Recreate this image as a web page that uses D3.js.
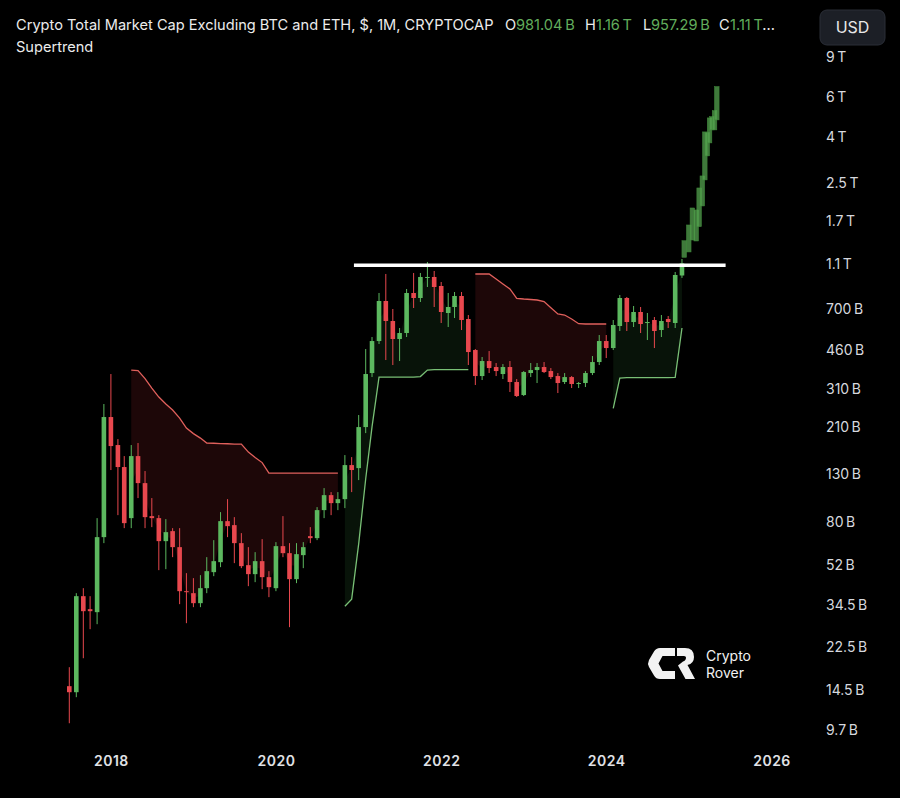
<!DOCTYPE html>
<html>
<head>
<meta charset="utf-8">
<script src="https://cdn.jsdelivr.net/npm/d3@7"></script>
<style>
  html, body { margin: 0; padding: 0; background: #000; }
  svg { display: block; }
</style>
</head>
<body>
<svg id="chart" width="900" height="798"></svg>
<script>
// monthly candles, all values in billions of USD
var months = [
  "2017-07","2017-08","2017-09","2017-10","2017-11","2017-12",
  "2018-01","2018-02","2018-03","2018-04","2018-05","2018-06","2018-07","2018-08","2018-09","2018-10","2018-11","2018-12",
  "2019-01","2019-02","2019-03","2019-04","2019-05","2019-06","2019-07","2019-08","2019-09","2019-10","2019-11","2019-12",
  "2020-01","2020-02","2020-03","2020-04","2020-05","2020-06","2020-07","2020-08","2020-09","2020-10","2020-11","2020-12",
  "2021-01","2021-02","2021-03","2021-04","2021-05","2021-06","2021-07","2021-08","2021-09","2021-10","2021-11","2021-12",
  "2022-01","2022-02","2022-03","2022-04","2022-05","2022-06","2022-07","2022-08","2022-09","2022-10","2022-11","2022-12",
  "2023-01","2023-02","2023-03","2023-04","2023-05","2023-06","2023-07","2023-08","2023-09","2023-10","2023-11","2023-12",
  "2024-01","2024-02","2024-03","2024-04","2024-05","2024-06","2024-07","2024-08","2024-09","2024-10","2024-11","2024-12"
];
var open = [
  15.14, 14.24, 37.77, 33.10, 32.11, 68.80, 233.0, 175.3, 140.2, 83.45,
  156.7, 119.1, 85.16, 83.45, 66.06, 73.12, 62.15, 39.74, 38.94, 35.18,
  40.97, 48.21, 53.36, 80.94, 77.72, 64.73, 51.76, 47.24, 53.91, 45.82,
  40.97, 62.78, 58.47, 44.90, 57.30, 69.50, 68.10, 90.52, 105.4, 97.19,
  101.2, 143.0, 138.7, 210.4, 364.3, 504.2, 757.2, 617.9, 514.6, 547.0,
  821.3, 780.6, 956.6, 966.4, 881.9, 670.2, 712.4, 796.6, 630.6, 460.2,
  353.3, 411.5, 387.2, 360.6, 387.2, 332.5, 291.3, 364.3, 375.5, 387.2,
  371.7, 353.3, 332.5, 349.7, 325.8, 329.1, 364.3, 407.3, 504.2, 469.6,
  587.3, 780.6, 611.6, 677.1, 605.5, 624.2, 563.9, 630.6, 605.5, 981.04
];
var high = [
  18.36, 38.94, 40.97, 37.77, 83.45, 265.9, 360.6, 186.2, 156.7, 175.3,
  178.9, 134.6, 102.3, 86.03, 82.61, 75.39, 75.39, 47.72, 45.36, 46.76,
  56.14, 66.73, 88.70, 101.2, 84.30, 71.65, 62.15, 59.07, 67.41, 48.70,
  65.39, 85.16, 64.73, 64.73, 65.39, 76.16, 93.32, 113.2, 108.7, 108.7,
  158.3, 155.1, 237.8, 464.9, 525.2, 821.3, 996.3, 698.1, 575.5, 855.4,
  1006.5, 1006.5, 1125.5, 1027.1, 918.4, 821.3, 829.7, 829.7, 656.7, 464.9,
  428.6, 455.5, 403.2, 399.1, 411.5, 342.7, 371.7, 403.2, 403.2, 407.3,
  383.2, 364.3, 364.3, 353.3, 332.5, 371.7, 433.0, 535.9, 535.9, 624.2,
  804.8, 788.6, 719.7, 712.4, 670.2, 643.5, 656.7, 650.1, 1016.7, 1160
];
var low = [
  10.39, 13.54, 20.11, 27.01, 28.42, 64.73, 136.0, 86.03, 75.39, 75.39,
  102.3, 75.39, 76.16, 49.20, 49.70, 56.14, 34.83, 28.71, 33.78, 33.78,
  38.94, 46.29, 50.72, 68.80, 52.83, 50.21, 41.81, 43.55, 40.56, 37.39,
  39.74, 56.14, 27.57, 43.11, 50.21, 64.73, 66.73, 83.45, 86.03, 90.52,
  92.38, 108.7, 122.8, 197.9, 349.7, 489.1, 415.7, 395.1, 411.5, 525.2,
  705.2, 749.5, 872.9, 712.4, 605.5, 581.3, 637.0, 563.9, 395.1, 322.5,
  339.3, 364.3, 353.3, 342.7, 300.4, 285.5, 288.4, 349.7, 329.1, 364.3,
  342.7, 297.3, 325.8, 312.8, 312.8, 316.0, 356.9, 395.1, 424.2, 460.2,
  558.2, 558.2, 581.3, 547.0, 509.4, 469.6, 525.2, 575.5, 575.5, 957.29
];
var close = [
  14.24, 37.77, 32.43, 32.43, 68.80, 233.0, 173.5, 140.2, 79.31, 156.7,
  119.1, 84.30, 83.45, 66.06, 72.38, 62.15, 39.74, 39.34, 35.18, 40.97,
  48.70, 53.91, 80.94, 76.93, 64.73, 51.24, 47.24, 53.91, 45.82, 41.39,
  62.78, 58.47, 44.90, 57.88, 62.15, 68.10, 90.52, 105.4, 97.19, 101.2,
  143.0, 136.0, 210.4, 360.6, 504.2, 757.2, 617.9, 514.6, 547.0, 821.3,
  780.6, 966.4, 966.4, 872.9, 677.1, 712.4, 796.6, 624.2, 450.9, 353.3,
  411.5, 383.2, 371.7, 387.2, 332.5, 288.4, 368.0, 375.5, 387.2, 368.0,
  349.7, 329.1, 349.7, 325.8, 329.1, 364.3, 407.3, 504.2, 469.6, 593.3,
  780.6, 611.6, 677.1, 599.3, 611.6, 558.2, 617.9, 611.6, 986.2, 1110
];

// supertrend, split by direction (null where the other side is active)
var stDown = [
  null, null, null, null, null, null, null, null, null, 375.5,
  373.6, 344.5, 312.8, 285.5, 265.9, 250.1, 230.6, 208.3, 196.9, 188.1,
  178.9, 178.5, 178.0, 177.6, 177.1, 177.1, 163.2, 154.4, 146.7, 131.9,
  131.9, 131.9, 131.9, 131.9, 131.9, 131.9, 131.9, 131.9, 131.9, 131.9,
  null, null, null, null, null, null, null, null, null, null,
  null, null, null, null, null, null, null, null, null, 996.3,
  996.3, 996.3, 946.9, 900.0, 855.4, 778.2, 772.7, 768.8, 764.9, 752.6,
  706.6, 663.5, 656.7, 630.6, 601.2, 599.3, 599.3, 599.3, 599.3, null,
  null, null, null, null, null, null, null, null, null, null
];
var stUp = [
  null, null, null, null, null, null, null, null, null, null,
  null, null, null, null, null, null, null, null, null, null,
  null, null, null, null, null, null, null, null, null, null,
  null, null, null, null, null, null, null, null, null, null,
  34.12, 36.64, 64.20, 124.1, 211.0, 349.7, 349.7, 349.7, 349.7, 349.7,
  349.7, 351.5, 375.5, 377.4, 377.4, 377.4, 377.4, 377.4, 377.4, null,
  null, null, null, null, null, null, null, null, null, null,
  null, null, null, null, null, null, null, null, null, 254.5,
  346.2, 347.9, 347.9, 347.9, 347.9, 347.9, 347.9, 347.9, 348.6, 575.5
];

// projected bars drawn after the last candle
var projDates = ["2024-12-11","2024-12-31","2025-01-16","2025-02-02","2025-02-15","2025-03-01",
                 "2025-03-12","2025-03-23","2025-04-02","2025-04-13","2025-04-24","2025-05-04"];
var projLow  = [1180, 1246, 1407, 1393, 1611, 1988, 2590, 3305, 3772, 4305, 4305, 4765];
var projHigh = [1397, 1639, 1948, 1909, 2387, 2697, 4218, 4188, 4863, 4928, 5237, 6684];

// horizontal resistance line
var resDates = ["2020-12-11", "2025-06-12"];
var resLevel = 1089;

var yTicks = [9000, 6000, 4000, 2500, 1700, 1100, 700, 460, 310, 210, 130, 80, 52, 34.5, 22.5, 14.5, 9.7];
var xTicks = ["2018", "2020", "2022", "2024", "2026"];

var W = 900, H = 798;
var upCol = "#5cb85f", downCol = "#e8484e";
var svg = d3.select("#chart");
svg.append("rect").attr("width", W).attr("height", H).attr("fill", "#000");

var parseM = d3.utcParse("%Y-%m");
var parseD = d3.utcParse("%Y-%m-%d");
var parseY = d3.utcParse("%Y");

var x = d3.scaleUtc()
  .domain([parseM("2017-07"), parseY("2026")])
  .range([69.3, 771.5]);
var y = d3.scaleLog()
  .domain([8.08, 16105])
  .range([748, 0]);

var data = months.map(function(m, i) {
  return {
    date: parseM(m), o: open[i], h: high[i], l: low[i], c: close[i],
    dn: stDown[i], up: stUp[i], mid: (open[i] + close[i]) / 2
  };
});

var plot = svg.append("g");

// supertrend fills (between line and body middle)
var areaDn = d3.area()
  .defined(function(d) { return d.dn != null; })
  .x(function(d) { return x(d.date); })
  .y0(function(d) { return y(d.mid); })
  .y1(function(d) { return y(d.dn); });
var areaUp = d3.area()
  .defined(function(d) { return d.up != null; })
  .x(function(d) { return x(d.date); })
  .y0(function(d) { return y(d.mid); })
  .y1(function(d) { return y(d.up); });

plot.append("path").datum(data).attr("d", areaDn).attr("fill", "rgba(242,54,69,0.12)");
plot.append("path").datum(data).attr("d", areaUp).attr("fill", "rgba(76,175,80,0.11)");

var lineDn = d3.line()
  .defined(function(d) { return d.dn != null; })
  .x(function(d) { return x(d.date); })
  .y(function(d) { return y(d.dn); });
var lineUp = d3.line()
  .defined(function(d) { return d.up != null; })
  .x(function(d) { return x(d.date); })
  .y(function(d) { return y(d.up); });

plot.append("path").datum(data).attr("d", lineDn)
  .attr("fill", "none").attr("stroke", "#e0605c").attr("stroke-width", 1.3);
plot.append("path").datum(data).attr("d", lineUp)
  .attr("fill", "none").attr("stroke", "#79c076").attr("stroke-width", 1.3);

// candles
var bw = 4.6;
var candles = plot.selectAll(".candle")
  .data(data)
  .enter()
  .append("g")
  .attr("class", "candle");

candles.append("line")
  .attr("x1", function(d) { return x(d.date); })
  .attr("x2", function(d) { return x(d.date); })
  .attr("y1", function(d) { return y(d.h); })
  .attr("y2", function(d) { return y(d.l); })
  .attr("stroke", function(d) { return d.c >= d.o ? upCol : downCol; })
  .attr("stroke-width", 1);

candles.append("rect")
  .attr("x", function(d) { return x(d.date) - bw / 2; })
  .attr("y", function(d) { return y(Math.max(d.o, d.c)); })
  .attr("width", bw)
  .attr("height", function(d) { return Math.max(1, Math.abs(y(d.o) - y(d.c))); })
  .attr("fill", function(d) { return d.c >= d.o ? upCol : downCol; });

// projection bars
var proj = projDates.map(function(s, i) {
  return { date: parseD(s), l: projLow[i], h: projHigh[i] };
});
plot.selectAll(".proj")
  .data(proj)
  .enter()
  .append("rect")
  .attr("class", "proj")
  .attr("x", function(d) { return x(d.date) - 2.3; })
  .attr("y", function(d) { return y(d.h); })
  .attr("width", 4.6)
  .attr("height", function(d) { return y(d.l) - y(d.h); })
  .attr("fill", "#58a852")
  .attr("fill-opacity", 0.72)
  .attr("stroke", "#3f8a3a")
  .attr("stroke-width", 0.5);

// resistance line
plot.append("line")
  .attr("x1", x(parseD(resDates[0])))
  .attr("x2", x(parseD(resDates[1])))
  .attr("y1", y(resLevel))
  .attr("y2", y(resLevel))
  .attr("stroke", "#ffffff")
  .attr("stroke-width", 3.5);

// axes
var fmt = function(v) {
  return v >= 1000 ? (v / 1000) + "\u2009T" : v + "\u2009B";
};
var yAxis = svg.append("g")
  .attr("transform", "translate(818,0)")
  .call(d3.axisRight(y).tickValues(yTicks).tickFormat(fmt).tickSize(0).tickPadding(8));
yAxis.select(".domain").remove();
yAxis.selectAll("text")
  .attr("fill", "#d6d8de")
  .style("font-family", "Inter, Roboto, sans-serif")
  .style("font-size", "14px");

var xAxis = svg.append("g")
  .attr("transform", "translate(0,748)")
  .call(d3.axisBottom(x).tickValues(xTicks.map(parseY)).tickFormat(d3.utcFormat("%Y")).tickSize(0).tickPadding(8));
xAxis.select(".domain").remove();
xAxis.selectAll("text")
  .attr("fill", "#e0e2e6")
  .style("font-family", "Inter, Roboto, sans-serif")
  .style("font-size", "14px")
  .style("font-weight", 600)
  .style("letter-spacing", "0.5px");

// header
var font = "Inter, Roboto, sans-serif";
var title = svg.append("text")
  .attr("y", 30)
  .style("font-family", font)
  .style("font-size", "14.6px")
  .attr("fill", "#ececec");
title.append("tspan").attr("x", 16).text("Crypto Total Market Cap Excluding BTC and ETH, $, 1M, CRYPTOCAP");
var ohlc = [["O", "981.04\u2009B", 505, 516], ["H", "1.16\u2009T", 585, 596],
            ["L", "957.29\u2009B", 643, 651], ["C", "1.11\u2009T", 719, 730]];
ohlc.forEach(function(p) {
  title.append("tspan").attr("x", p[2]).text(p[0]);
  title.append("tspan").attr("x", p[3]).attr("fill", "#62ad5c").text(p[1]);
});
title.append("tspan").text("...");

svg.append("text")
  .attr("x", 16).attr("y", 52)
  .style("font-family", font)
  .style("font-size", "14.6px")
  .attr("fill", "#ececec")
  .text("Supertrend");

// USD badge
svg.append("rect")
  .attr("x", 820).attr("y", 10).attr("width", 65).attr("height", 35)
  .attr("rx", 7).attr("fill", "#1c1f26").attr("stroke", "#2a2e37");
svg.append("text")
  .attr("x", 852.5).attr("y", 33)
  .attr("text-anchor", "middle")
  .style("font-family", font)
  .style("font-size", "16px")
  .attr("fill", "#e8e8e8")
  .text("USD");

// watermark
var logo = svg.append("g").attr("transform", "translate(648,648)");
logo.append("path")
  .attr("d", "M27,0 L12,0 Q8,0 6,3.5 L1,12 Q-0.8,15.5 1,19 L6,27.5 Q8,31 12,31 L27,31 L27,23 L14.5,23 L10.5,15.5 L14.5,8 L27,8 Z")
  .attr("fill", "#f2f2f2");
logo.append("path")
  .attr("d", "M29,0 L37,0 Q46,0 46,9 Q46,15.5 39.5,17 L47,31 L37.5,31 L30,17.5 L35,13.5 Q38,12.5 38,9.5 Q38,8 36,8 L29,8 Z")
  .attr("fill", "#f2f2f2");
svg.append("text").attr("x", 706).attr("y", 661)
  .style("font-family", font).style("font-size", "14px").attr("fill", "#f2f2f2").text("Crypto");
svg.append("text").attr("x", 706).attr("y", 678)
  .style("font-family", font).style("font-size", "14px").attr("fill", "#f2f2f2").text("Rover");
</script>
</body>
</html>
